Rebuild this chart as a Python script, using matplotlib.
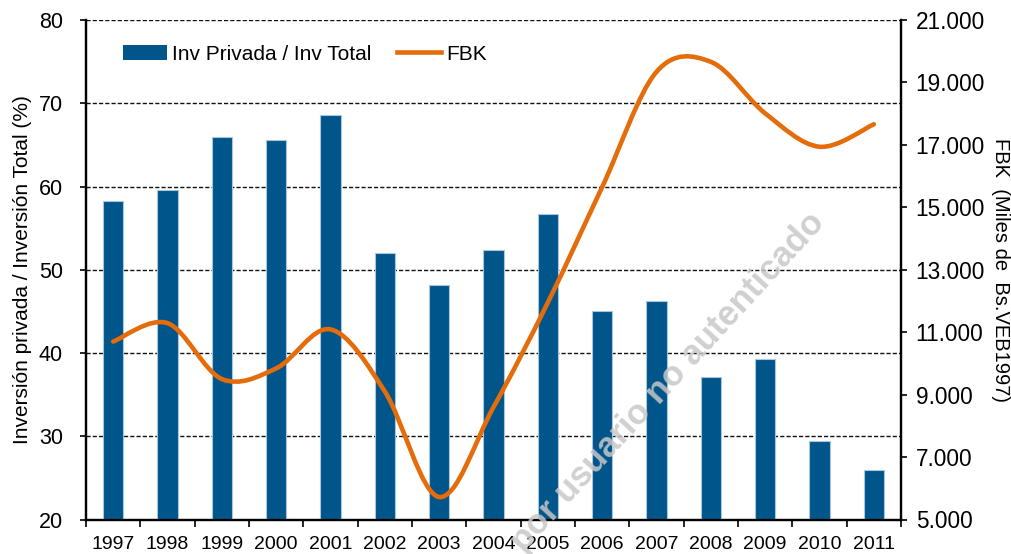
import matplotlib
matplotlib.use("Agg")
import matplotlib.pyplot as plt
from matplotlib.path import Path
from matplotlib.patches import PathPatch
from matplotlib.lines import Line2D
from matplotlib.ticker import FuncFormatter, MultipleLocator, FixedLocator
import matplotlib.transforms as mtransforms

plt.rcParams['font.family'] = ['Liberation Sans', 'DejaVu Sans']

years = ['1997', '1998', '1999', '2000', '2001', '2002', '2003', '2004',
         '2005', '2006', '2007', '2008', '2009', '2010', '2011']
inv_ratio = [58.3, 59.6, 66.0, 65.6, 68.6, 52.0, 48.2, 52.4,
             56.7, 45.0, 46.2, 37.1, 39.3, 29.4, 25.9]
fbk = [10700, 11290, 9500, 9840, 11090, 9100, 5720, 8600,
       11950, 15650, 19340, 19660, 18010, 16940, 17660]
fbk_ticks = [5000, 7000, 9000, 11000, 13000, 15000, 17000, 19000, 21000]

bar_label = 'Inv Privada / Inv Total'
line_label = 'FBK'
left_ylabel = 'Inversión privada / Inversión Total (%)'
right_ylabel = 'FBK  (Miles de  Bs.VEB1997)'
watermark = 'por usuario no autenticado'

BAR_C = '#00558A'
LINE_C = '#E46C0A'

W, H = 1011, 554
fig = plt.figure(figsize=(W / 100, H / 100), dpi=100)
L, R, B, T = 86, 901, 519.5, 20
ax = fig.add_axes([L / W, 1 - B / H, (R - L) / W, (B - T) / H])
ax2 = ax.twinx()

x = list(range(len(years)))
ax.bar(x, inv_ratio, width=0.38, color=BAR_C, edgecolor='#A9C6E0',
       linewidth=0.8, zorder=3)
ax.set_xlim(-0.5, len(years) - 0.5)
ax.set_ylim(20, 80)
ax.yaxis.set_major_locator(MultipleLocator(10))
for v in range(30, 81, 10):
    ax.axhline(v, color='#111111', lw=1.0, ls=(0, (3, 1.5)), zorder=1)

# smooth line (Excel-style Catmull-Rom Bezier)
n = len(fbk)
verts = [(x[0], fbk[0])]
codes = [Path.MOVETO]
for i in range(n - 1):
    p0 = (x[max(i - 1, 0)], fbk[max(i - 1, 0)])
    p1 = (x[i], fbk[i])
    p2 = (x[i + 1], fbk[i + 1])
    p3 = (x[min(i + 2, n - 1)], fbk[min(i + 2, n - 1)])
    c1 = (p1[0] + (p2[0] - p0[0]) / 6, p1[1] + (p2[1] - p0[1]) / 6)
    c2 = (p2[0] - (p3[0] - p1[0]) / 6, p2[1] - (p3[1] - p1[1]) / 6)
    verts += [c1, c2, p2]
    codes += [Path.CURVE4] * 3
ax2.add_patch(PathPatch(Path(verts, codes), facecolor='none',
                        edgecolor=LINE_C, lw=3.3, capstyle='round',
                        zorder=4))
ax2.set_ylim(5000, 21000)
ax2.yaxis.set_major_locator(FixedLocator(fbk_ticks))
ax2.yaxis.set_major_formatter(
    FuncFormatter(lambda v, p: f'{int(v):,}'.replace(',', '.')))

# ticks
ax.set_xticks(x)
ax.set_xticklabels(years, fontsize=14)
ax.xaxis.set_minor_locator(FixedLocator([i - 0.5 for i in range(len(years) + 1)]))
ax.tick_params(axis='x', which='major', length=0, pad=12)
ax.tick_params(axis='x', which='minor', length=5, width=1.2, color='black')
ax.tick_params(axis='y', which='major', length=4.5, width=1.2,
               labelsize=15.5, pad=12)
ax2.tick_params(axis='y', which='major', length=4.5, width=1.2,
                labelsize=16.3, pad=6)

for a in (ax, ax2):
    a.spines['top'].set_visible(False)
    for s in ('left', 'right', 'bottom'):
        a.spines[s].set_linewidth(1.6)
        a.spines[s].set_color('black')

ax.set_ylabel(left_ylabel, fontsize=15, labelpad=5)
ax2.set_ylabel(right_ylabel, fontsize=14.5, rotation=270, labelpad=18)

# legend
handles = [plt.Rectangle((0, 0), 1, 1, facecolor=BAR_C, edgecolor='none'),
           Line2D([0], [0], color=LINE_C, lw=3.3)]
fig.legend(handles, [bar_label, line_label], loc='center left',
           bbox_to_anchor=(123 / W, 1 - 54 / H), ncol=2, frameon=False,
           fontsize=15, handlelength=2.1, handletextpad=0.25,
           columnspacing=1.25, borderpad=0, borderaxespad=0,
           handleheight=0.7)

# watermark
fig.text(668, H - 382, watermark, transform=mtransforms.IdentityTransform(),
         fontsize=25, fontweight='bold', color='#C8C8C8', alpha=0.85,
         rotation=47.5, rotation_mode='anchor', ha='center', va='center',
         zorder=5)

fig.savefig('out.png', dpi=100)
